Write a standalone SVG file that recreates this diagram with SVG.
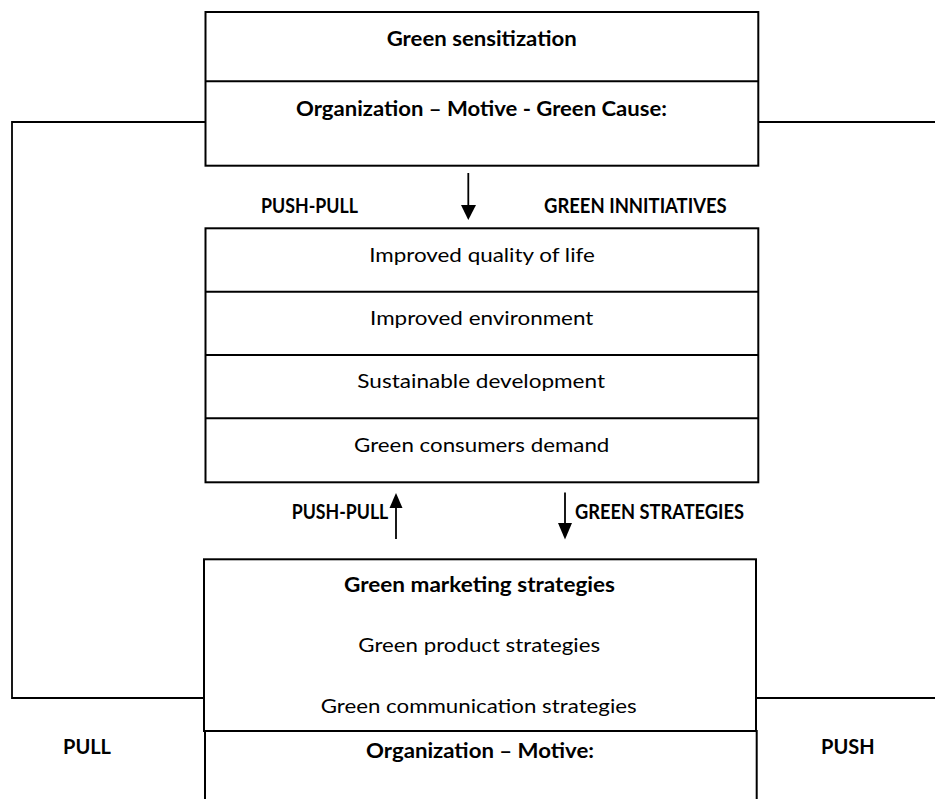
<svg xmlns="http://www.w3.org/2000/svg" width="935" height="799" viewBox="0 0 935 799">
  <defs>
    <style>
      .box { fill: #ffffff; stroke: #000000; stroke-width: 2; }
      .edge { fill: none; stroke: #000000; stroke-width: 2; }
      .wire { fill: none; stroke: #000000; stroke-width: 1.8; }
      .head { fill: #000000; stroke: none; }
      text { font-family: "Lato", "Liberation Sans", sans-serif; font-size: 20px; fill: #000000; }
      .b { font-weight: bold; }
      .c { text-anchor: middle; }
    </style>
  </defs>
  <rect width="935" height="799" fill="#ffffff"/>

  <!-- feedback loop and flow arrows -->
  <g id="connectors">
    <polyline class="wire" points="205,122 12,122 12,698 204,698"/>
    <line class="wire" x1="758" y1="122" x2="935" y2="122"/>
    <line class="wire" x1="756" y1="698" x2="935" y2="698"/>
    <line class="wire" x1="468.3" y1="173" x2="468.3" y2="207"/>
    <polygon class="head" points="461,205 476,205 468.3,220"/>
    <line class="wire" x1="396" y1="539" x2="396" y2="506"/>
    <polygon class="head" points="389.5,508 402.5,508 396,493"/>
    <line class="wire" x1="565" y1="492.5" x2="565" y2="525"/>
    <polygon class="head" points="558,523 572,523 565,539.5"/>
  </g>

  <g id="labels">
    <text class="b" x="261" y="213" textLength="97" lengthAdjust="spacingAndGlyphs">PUSH-PULL</text>
    <text class="b" x="544" y="213" textLength="182.7" lengthAdjust="spacingAndGlyphs">GREEN INNITIATIVES</text>
    <text class="b" x="291.7" y="519.3" textLength="96.6" lengthAdjust="spacingAndGlyphs">PUSH-PULL</text>
    <text class="b" x="575" y="519.3" textLength="169" lengthAdjust="spacingAndGlyphs">GREEN STRATEGIES</text>
    <text class="b" x="63" y="754">PULL</text>
    <text class="b" x="821" y="754">PUSH</text>
  </g>

  <!-- top: sensitization -->
  <g id="sensitization">
    <rect class="box" x="205.5" y="12" width="552.8" height="153.7"/>
    <line class="edge" x1="205.5" y1="81.3" x2="758.3" y2="81.3"/>
    <text class="b c" x="481.7" y="45.5" textLength="190" lengthAdjust="spacingAndGlyphs">Green sensitization</text>
    <text class="b c" x="481.5" y="116" textLength="371" lengthAdjust="spacingAndGlyphs">Organization – Motive - Green Cause:</text>
  </g>

  <!-- middle: outcomes -->
  <g id="outcomes">
    <rect class="box" x="205.5" y="228.3" width="552.8" height="254"/>
    <line class="edge" x1="205.5" y1="291.7" x2="758.3" y2="291.7"/>
    <line class="edge" x1="205.5" y1="355" x2="758.3" y2="355"/>
    <line class="edge" x1="205.5" y1="418.3" x2="758.3" y2="418.3"/>
    <text class="c" x="482" y="261.7" textLength="225.7" lengthAdjust="spacingAndGlyphs">Improved quality of life</text>
    <text class="c" x="481.7" y="325" textLength="223.3" lengthAdjust="spacingAndGlyphs">Improved environment</text>
    <text class="c" x="481.2" y="388.3" textLength="247.7" lengthAdjust="spacingAndGlyphs">Sustainable development</text>
    <text class="c" x="481.7" y="451.7" textLength="255.3" lengthAdjust="spacingAndGlyphs">Green consumers demand</text>
  </g>

  <!-- bottom: strategies -->
  <g id="strategies">
    <rect class="box" x="204" y="559.3" width="552" height="171.7"/>
    <text class="b c" x="479.5" y="591.7" textLength="271" lengthAdjust="spacingAndGlyphs">Green marketing strategies</text>
    <text class="c" x="479.2" y="651.7" textLength="241.7" lengthAdjust="spacingAndGlyphs">Green product strategies</text>
    <text class="c" x="478.7" y="712.7" textLength="316" lengthAdjust="spacingAndGlyphs">Green communication strategies</text>
  </g>

  <!-- bottom: organization motive (open at the lower edge) -->
  <g id="motive">
    <path class="edge" d="M205,800 V731 H756.7 V800" stroke-width="1.6"/>
    <text class="b c" x="480" y="758.3" textLength="228" lengthAdjust="spacingAndGlyphs">Organization – Motive:</text>
  </g>
</svg>
